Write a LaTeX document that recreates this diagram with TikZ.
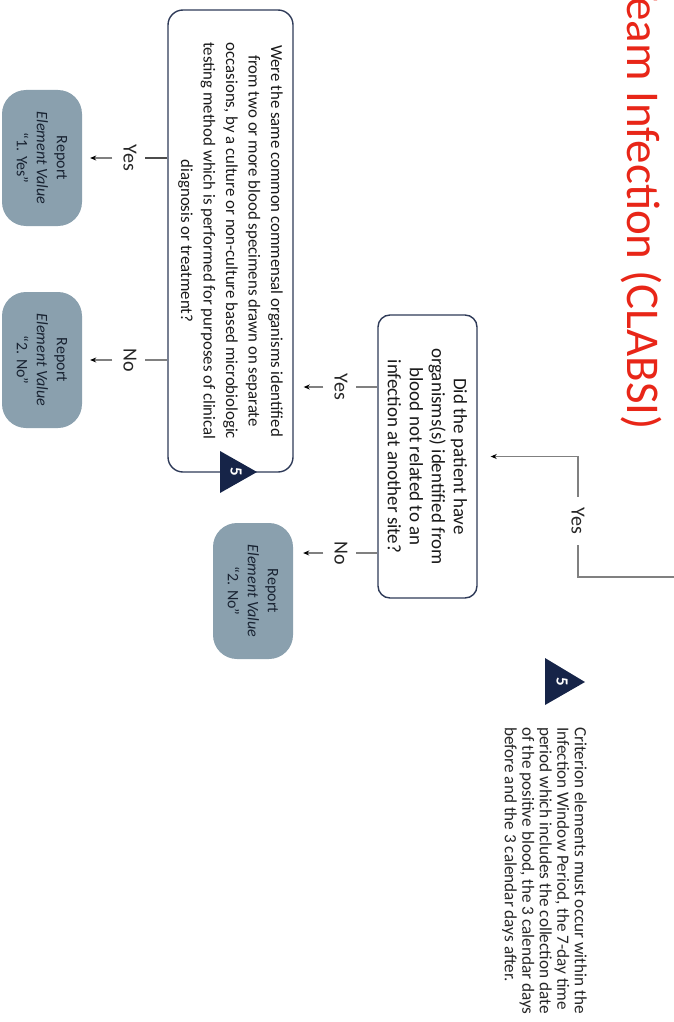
\documentclass[tikz,border=0pt]{standalone}
\usepackage{fontspec}
\setmainfont{Carlito}
\usetikzlibrary{arrows.meta,calc}
\definecolor{navy}{RGB}{22,36,72}
\definecolor{boxline}{RGB}{46,58,88}
\definecolor{termfill}{RGB}{138,160,174}
\definecolor{termtext}{RGB}{25,35,50}
\definecolor{titlered}{RGB}{232,38,24}
\definecolor{linegray}{RGB}{128,128,128}
\begin{document}
\begin{tikzpicture}[x=1pt,y=-1pt,
  question/.style={draw=boxline, line width=1.4pt, rotate=-90, align=center, inner sep=0pt, text=black!90},
  terminal/.style={fill=termfill, rounded corners=24pt, rotate=-90, align=center, minimum width=136pt, minimum height=80pt, inner sep=0pt, font=\fontsize{16}{20}\selectfont, text=termtext},
  lbl/.style={rotate=-90, font=\fontsize{20}{22}\selectfont, inner xsep=11pt, inner ysep=8pt, text=black!85},
  conn/.style={draw=linegray, line width=1.2pt},
  arr/.style={conn, -{Stealth[length=6pt,width=5pt,black]}},
  badge/.style={rotate=-90, text=white, font=\bfseries\fontsize{17}{17}\selectfont, inner sep=0pt},
]
\useasboundingbox (0,0) rectangle (673,1022);

% title
\node[rotate=-90, anchor=base east, inner sep=0pt, text=titlered, font=\fontsize{47}{56}\selectfont] (title) at (627,430) {Team Infection (CLABSI)};

% questions
\node[question, rounded corners=12pt, minimum width=283pt, minimum height=99pt, font=\fontsize{19}{22}\selectfont] (q1) at (427.5,456.5) {Did the patient have\\organisms(s) identified from\\blood not related to an\\infection at another site?};
\node[question, rounded corners=15pt, minimum width=462pt, minimum height=125pt, font=\fontsize{16.8}{22.5}\selectfont] (q2) at (230.5,241) {Were the same common commensal organisms identified\\from two or more blood specimens drawn on separate\\occasions, by a culture or non-culture based microbiologic\\testing method which is performed for purposes of clinical\\diagnosis or treatment?};

% terminals
\node[terminal] (t1) at (42,158) {Report\\\textit{Element Value}\\“1. Yes”};
\node[terminal] (t2) at (42,360) {Report\\\textit{Element Value}\\“2. No”};
\node[terminal] (t3) at (253,591) {Report\\\textit{Element Value}\\“2. No”};

% labels
\node[lbl] (y0) at (578,521) {Yes};
\node[lbl] (y1) at (341,387) {Yes};
\node[lbl] (n1) at (341,553) {No};
\node[lbl] (y2) at (130,158) {Yes};
\node[lbl] (n2) at (130,360) {No};

% connectors
\coordinate (entry) at (674,577);
\draw[conn] (entry) -| (y0.east);
\draw[arr, shorten >=13pt] (y0.west) |- (q1.north);

\draw[conn] (q1.south |- y1) -- (y1.north);
\draw[arr, shorten <=3pt, shorten >=10pt] (y1.south) -- (q2.north |- y1);
\draw[conn] (q1.south |- n1) -- (n1.north);
\draw[arr, shorten <=3pt, shorten >=10pt] (n1.south) -- (t3.north |- n1);

\draw[conn, draw=black!70] (q2.south |- y2) -- (y2.north);
\draw[arr, shorten <=3pt, shorten >=8pt] (y2.south) -- (t1.north);
\draw[conn] (q2.south |- n2) -- (n2.north);
\draw[arr, shorten <=3pt, shorten >=8pt] (n2.south) -- (t2.north);

% badges
\coordinate (b1c) at (232,472);
\fill[navy] ($(b1c)+(-12,-21)$) -- ($(b1c)+(25,0)$) -- ($(b1c)+(-12,21)$) -- cycle;
\node[badge] (b1) at (236,472) {5};

\coordinate (b2c) at (558,682);
\fill[navy] ($(b2c)+(-13,-24)$) -- ($(b2c)+(27,0)$) -- ($(b2c)+(-13,23)$) -- cycle;
\node[badge] (b2) at (562,682) {5};

% legend
\node[rotate=-90, anchor=north west, align=left, font=\fontsize{17.2}{17.5}\selectfont, inner sep=0pt, text=black!85] (legend) at (587,727) {Criterion elements must occur within the\\Infection Window Period, the 7-day time\\period which includes the collection date\\of the positive blood, the 3 calendar days\\before and the 3 calendar days after.};
\end{tikzpicture}
\end{document}
